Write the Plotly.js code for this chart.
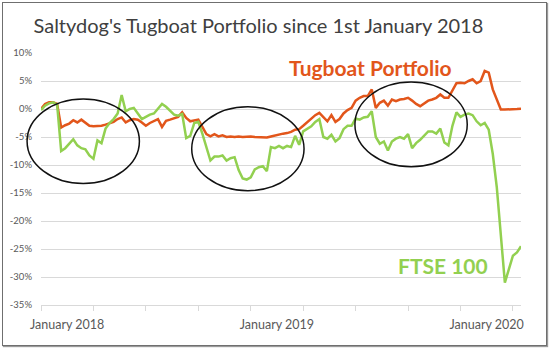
<!DOCTYPE html>
<html>
<head>
<meta charset="utf-8">
<script src="https://cdn.plot.ly/plotly-3.0.1.min.js"></script>
<style>
  html, body { margin: 0; padding: 0; background: #ffffff; }
  #wrap { position: relative; width: 551px; height: 351px; }
  #chart { position: absolute; left: 0; top: 0; width: 551px; height: 351px; }
  #frame { position: absolute; left: 2px; top: 2px; width: 543px; height: 342px;
           border: 1px solid #6f6f6f; box-shadow: 1px 1px 1px #9a9a9a; pointer-events: none; }
</style>
</head>
<body>
<div id="wrap"><div id="chart"></div><div id="frame"></div></div>
<script>
// Weekly % change since 1st January 2018
const tugboat = [
  0.0, 0.9, 1.2, 1.2, 0.9, -3.3, -2.9, -2.6, -2.0, -2.4,
  -1.9, -2.5, -3.0, -3.1, -3.1, -3.0, -2.8, -2.6, -2.3, -1.8,
  -1.5, -2.4, -2.0, -1.8, -1.9, -2.4, -3.0, -2.5, -2.2, -1.8,
  -3.2, -2.1, -1.9, -1.7, -1.4, -0.6, -1.6, -2.2, -2.1, -1.9,
  -3.2, -4.5, -4.9, -4.5, -4.9, -4.7, -5.0, -4.9, -5.0, -4.9,
  -5.0, -4.9, -4.9, -5.0, -5.0, -5.1, -5.1, -4.9, -4.7, -4.5,
  -4.4, -4.3, -4.1, -3.7, -3.6, -3.0, -2.4, -1.7, -1.1, -0.7,
  -1.5, -2.2, -1.1, -2.3, -1.8, -0.8, -0.2, 0.2, 1.5, 2.0,
  2.3, 2.3, 3.5, 0.2, 1.1, 1.5, 0.6, 1.7, 1.4, 1.7,
  1.8, 2.0, 1.5, 0.9, 0.5, 1.0, 1.5, 1.7, 2.0, 2.6,
  2.0, 2.0, 3.3, 4.6, 4.7, 4.6, 5.0, 5.3, 4.6, 5.0,
  6.8, 6.5, 3.5, 1.7, -0.1, -0.1, -0.1, -0.1, 0.0, 0.05
];
const ftse = [
  -0.2, 0.6, 1.0, 1.2, 0.8, -7.5, -7.0, -6.1, -5.4, -6.5,
  -7.0, -7.2, -8.3, -8.9, -5.6, -6.1, -3.5, -2.5, -1.8, -0.8,
  2.5, -0.4, 0.0, 0.2, -0.8, -1.8, -1.4, -1.0, -0.8, 0.0,
  0.9, 0.4, -0.4, -1.0, -1.2, -0.9, -5.2, -4.8, -2.5, -2.3,
  -4.4, -7.0, -9.2, -8.5, -8.5, -8.3, -9.2, -8.8, -8.6, -10.9,
  -12.4, -12.6, -12.2, -10.8, -10.4, -10.2, -11.1, -6.8, -7.0, -6.6,
  -7.0, -6.6, -6.8, -4.8, -6.4, -4.0, -3.6, -3.1, -2.3, -1.8,
  -5.0, -5.3, -4.6, -5.8, -5.2, -3.6, -3.0, -3.0, -1.7, -1.9,
  -1.5, -1.4, -0.4, -5.0, -6.2, -5.8, -7.4, -5.8, -5.3, -5.0,
  -5.3, -4.5, -7.0, -6.1, -5.5, -4.8, -4.0, -4.0, -4.4, -3.5,
  -6.0, -6.5, -3.0, -0.6, -1.4, -1.0, -0.8, -1.1, -2.2, -2.9,
  -2.5, -3.7, -8.0, -14.0, -22.0, -31.0, -28.6, -26.2, -25.6, -24.5
];
// Axis ticks (x = week number since 1st January 2018)
const quarterTicks = [0, 13, 26, 39, 52, 65, 78, 91, 104, 117];
const xLabelPos = [6.5, 58.5, 110.5];
const xLabels = ['January 2018', 'January 2019', 'January 2020'];
const yTickVals = [-35, -30, -25, -20, -15, -10, -5, 0, 5, 10];
const yTickText = ['-35%', '-30%', '-25%', '-20%', '-15%', '-10%', '-5%', '0%', '5%', '10%'];

const RED = '#E2561B';
const GREEN = '#92D050';

const traces = [
  { y: tugboat, type: 'scatter', mode: 'lines', name: 'Tugboat Portfolio',
    line: { color: RED, width: 2.5 }, hoverinfo: 'skip' },
  { y: ftse, type: 'scatter', mode: 'lines', name: 'FTSE 100',
    line: { color: GREEN, width: 2.5 }, hoverinfo: 'skip' }
];

const ellipse = (x0, x1, y0, y1) => ({
  type: 'circle', xref: 'x domain', yref: 'y', x0: x0, x1: x1, y0: y0, y1: y1,
  line: { color: '#111111', width: 1.5 }, fillcolor: 'rgba(0,0,0,0)'
});

const layout = {
  width: 551, height: 351,
  margin: { l: 41, r: 30, t: 53, b: 46 },
  paper_bgcolor: '#ffffff', plot_bgcolor: '#ffffff',
  showlegend: false,
  font: { family: 'Lato, "Open Sans", sans-serif', color: '#595959' },
  title: {
    text: "Saltydog's Tugboat Portfolio since 1st January 2018",
    font: { family: 'Lato, "Open Sans", sans-serif', size: 20, color: '#404040' },
    x: 0.469, xref: 'container', xanchor: 'center',
    y: 0.926, yref: 'container', yanchor: 'middle'
  },
  xaxis: {
    range: [0, 119], showgrid: false, zeroline: false,
    showline: true, linecolor: '#d9d9d9', linewidth: 1,
    tickmode: 'array', tickvals: xLabelPos, ticktext: xLabels, ticks: '',
    ticklabelstandoff: 8,
    tickfont: { size: 12.5, color: '#595959' },
    minor: { tickmode: 'array', tickvals: quarterTicks, ticks: 'outside', ticklen: 5,
             tickcolor: '#d9d9d9', tickwidth: 1, showgrid: false },
    fixedrange: true
  },
  yaxis: {
    range: [-35, 10], tickmode: 'array', tickvals: yTickVals, ticktext: yTickText,
    showgrid: true, gridcolor: '#d9d9d9', gridwidth: 1, zeroline: false,
    showline: false, ticks: '', ticklabelstandoff: 8,
    tickfont: { size: 9.5, color: '#595959' },
    fixedrange: true
  },
  shapes: [
    ellipse(-0.029, 0.205, -13.3, 1.8),
    ellipse(0.314, 0.548, -14.6, 0.4),
    ellipse(0.654, 0.888, -10.3, 4.8)
  ],
  annotations: [
    { text: '<b>Tugboat Portfolio</b>', x: 81.8, y: 7.5, xref: 'x', yref: 'y',
      showarrow: false, xanchor: 'center', yanchor: 'middle',
      font: { family: 'Lato, "Open Sans", sans-serif', size: 21, color: RED } },
    { text: '<b>FTSE 100</b>', x: 99.7, y: -28.0, xref: 'x', yref: 'y',
      showarrow: false, xanchor: 'center', yanchor: 'middle',
      font: { family: 'Lato, "Open Sans", sans-serif', size: 21, color: GREEN } }
  ]
};

Plotly.newPlot('chart', traces, layout, { displayModeBar: false, staticPlot: true });
</script>
</body>
</html>
